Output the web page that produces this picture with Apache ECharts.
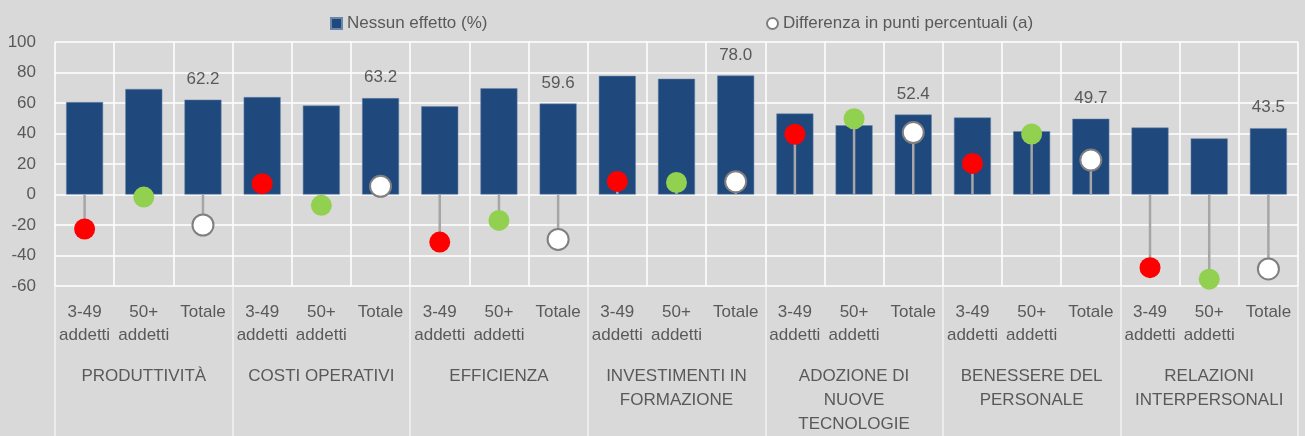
<!DOCTYPE html>
<html>
<head>
<meta charset="utf-8">
<script src="https://cdn.jsdelivr.net/npm/echarts@6/dist/echarts.min.js"></script>
<style>
  html, body { margin: 0; padding: 0; background: #d9d9d9; }
  #container { width: 1305px; height: 436px; }
</style>
</head>
<body>
<div id="container"></div>
<script>
var dom = document.getElementById("container");
var myChart = echarts.init(dom);

// categories (two levels)
var sizeLabels = ["3-49\naddetti", "50+\naddetti", "Totale"];
var groups = ["PRODUTTIVITÀ", "COSTI OPERATIVI", "EFFICIENZA", "INVESTIMENTI IN\nFORMAZIONE",
  "ADOZIONE DI\nNUOVE\nTECNOLOGIE", "BENESSERE DEL\nPERSONALE", "RELAZIONI\nINTERPERSONALI"];

// Nessun effetto (%), Totale values from labels
var nessunEffetto = [60.6, 69.2, 62.2, 63.9, 58.3, 63.2, 57.8, 69.7, 59.6,
  77.8, 75.9, 78.0, 53.1, 45.4, 52.4, 50.5, 41.5, 49.7, 43.9, 36.8, 43.5];

// Differenza in punti percentuali (a)
var differenza = [-22.6, -1.7, -20.0, 7.1, -7.1, 5.4, -31.2, -17.0, -29.5,
  8.6, 7.9, 8.4, 39.5, 49.7, 40.6, 20.4, 39.7, 22.6, -48.0, -55.5, -48.8];

var dotColors = ["#ff0000", "#92d050", "#ffffff"];

var fontFam = "'Liberation Sans', Arial, sans-serif";
var fs = 17;
var txt = "#595959";

// build the flat category list
var cats = [];
for (var g = 0; g < groups.length; g++) {
  for (var s = 0; s < sizeLabels.length; s++) {
    cats.push(sizeLabels[s] + "|" + g);
  }
}

var barData = nessunEffetto.map(function (v, i) {
  return {
    value: v,
    label: { show: i % 3 == 2 }
  };
});

var dotData = differenza.map(function (v, i) {
  var k = i % 3;
  return {
    value: v,
    itemStyle: k == 2
      ? { color: "#ffffff", borderColor: "#7f7f7f", borderWidth: 2 }
      : { color: dotColors[k], borderWidth: 0 }
  };
});

var stemData = differenza.map(function (v, i) { return [i, v]; });

var option = {
  backgroundColor: "#d9d9d9",
  animation: false,
  textStyle: { fontFamily: fontFam },
  legend: [
    {
      left: 330, top: 15, padding: 0,
      itemWidth: 11, itemHeight: 11, itemGap: 5,
      data: [{ name: "Nessun effetto (%)", icon: "rect" }],
      textStyle: { fontSize: fs, color: txt, fontFamily: fontFam }
    },
    {
      left: 766, top: 15, padding: 0,
      itemWidth: 11, itemHeight: 11,
      data: [{ name: "Differenza in punti percentuali (a)", icon: "circle" }],
      textStyle: { fontSize: fs, color: txt, fontFamily: fontFam }
    }
  ],
  grid: { left: 55, right: 7, top: 42, bottom: 145, containLabel: false },
  xAxis: [
    {
      type: "category",
      data: cats,
      position: "bottom",
      axisLine: { show: false, onZero: false },
      axisTick: { show: false },
      splitLine: { show: true, lineStyle: { color: "#ffffff", width: 1.5 } },
      axisLabel: {
        interval: 0,
        margin: 15,
        fontSize: fs,
        lineHeight: 23,
        color: txt,
        fontFamily: fontFam,
        formatter: function (v) { return v.split("|")[0]; }
      }
    },
    {
      type: "category",
      data: groups,
      position: "bottom",
      axisLine: { show: false, onZero: false },
      axisTick: { show: true, length: 150, lineStyle: { color: "#f2f2f2", width: 1.5 } },
      splitLine: { show: false },
      axisLabel: {
        interval: 0,
        margin: 78,
        fontSize: fs,
        lineHeight: 24,
        color: txt,
        fontFamily: fontFam
      }
    }
  ],
  yAxis: {
    type: "value",
    min: -60, max: 100, interval: 20,
    axisLine: { show: false },
    axisTick: { show: false },
    splitLine: { lineStyle: { color: "#ffffff", width: 1.5 } },
    axisLabel: { fontSize: fs, color: txt, margin: 19, fontFamily: fontFam }
  },
  series: [
    {
      name: "Nessun effetto (%)",
      type: "bar",
      xAxisIndex: 0,
      barWidth: 37,
      z: 2,
      itemStyle: { color: "#1f497d", borderColor: "#6a86aa", borderWidth: 0.5 },
      label: {
        position: "top",
        distance: 12,
        fontSize: fs,
        color: txt,
        fontFamily: fontFam,
        formatter: function (p) { return p.value.toFixed(1); }
      },
      data: barData
    },
    {
      name: "stems",
      type: "custom",
      xAxisIndex: 0,
      z: 3,
      silent: true,
      renderItem: function (params, api) {
        var p0 = api.coord([api.value(0), 0]);
        var p1 = api.coord([api.value(0), api.value(1)]);
        return {
          type: "line",
          shape: { x1: p0[0], y1: p0[1], x2: p1[0], y2: p1[1] },
          style: { stroke: "#a6a6a6", lineWidth: 2.5 }
        };
      },
      data: stemData
    },
    {
      name: "Differenza in punti percentuali (a)",
      type: "scatter",
      xAxisIndex: 0,
      z: 4,
      symbol: "circle",
      symbolSize: 21,
      itemStyle: { color: "#ffffff", borderColor: "#7f7f7f", borderWidth: 2, opacity: 1 },
      data: dotData
    }
  ]
};

myChart.setOption(option);
</script>
</body>
</html>
